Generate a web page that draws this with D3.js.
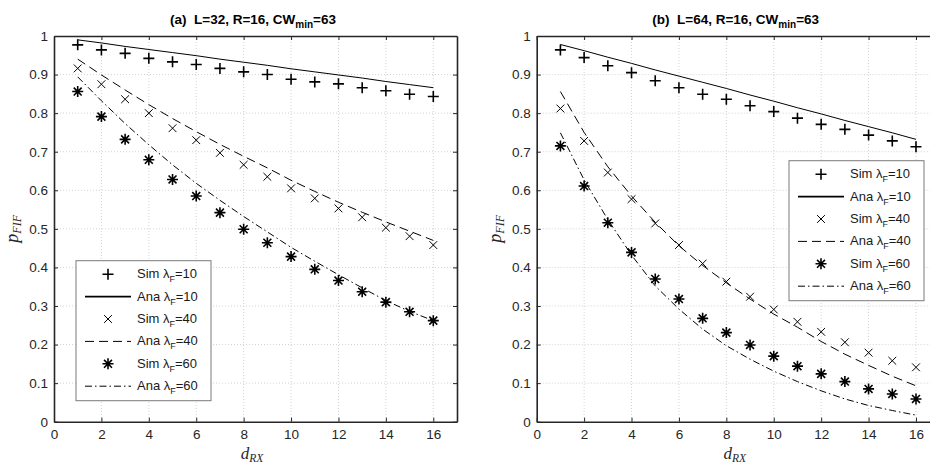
<!DOCTYPE html>
<html>
<head>
<meta charset="utf-8">
<script src="https://cdn.jsdelivr.net/npm/d3@7"></script>
<style>
  body { margin: 0; background: #fff; }
  svg { display: block; }
  text { font-family: Arial, "Liberation Sans", sans-serif; }
</style>
</head>
<body>
<div id="chart"></div>
<script>
// DATA
let dRX = [1, 2, 3, 4, 5, 6, 7, 8, 9, 10, 11, 12, 13, 14, 15, 16];
let xTicks = [0, 2, 4, 6, 8, 10, 12, 14, 16];
let yTicks = [0, 0.1, 0.2, 0.3, 0.4, 0.5, 0.6, 0.7, 0.8, 0.9, 1];
let lambdas = [10, 40, 60];

// panel (a) L=32
let simA10 = [0.977, 0.964, 0.955, 0.942, 0.933, 0.926, 0.916, 0.907, 0.900, 0.888, 0.881, 0.876, 0.866, 0.858, 0.849, 0.843];
let anaA10 = [0.990, 0.982, 0.973, 0.965, 0.957, 0.949, 0.940, 0.932, 0.924, 0.915, 0.907, 0.899, 0.891, 0.882, 0.874, 0.866];
let simA40 = [0.916, 0.875, 0.836, 0.800, 0.761, 0.730, 0.697, 0.666, 0.635, 0.605, 0.579, 0.553, 0.530, 0.503, 0.481, 0.458];
let anaA40 = [0.940, 0.899, 0.860, 0.822, 0.786, 0.752, 0.719, 0.688, 0.658, 0.626, 0.597, 0.569, 0.543, 0.518, 0.494, 0.470];
let simA60 = [0.856, 0.791, 0.732, 0.679, 0.628, 0.585, 0.542, 0.499, 0.464, 0.428, 0.395, 0.366, 0.337, 0.310, 0.285, 0.262];
let anaA60 = [0.894, 0.832, 0.773, 0.718, 0.666, 0.618, 0.574, 0.532, 0.492, 0.452, 0.416, 0.381, 0.347, 0.314, 0.286, 0.262];

// panel (b) L=64
let simB10 = [0.964, 0.944, 0.923, 0.905, 0.884, 0.866, 0.849, 0.836, 0.819, 0.804, 0.787, 0.771, 0.758, 0.743, 0.728, 0.713];
let anaB10 = [0.978, 0.962, 0.945, 0.929, 0.912, 0.896, 0.880, 0.864, 0.847, 0.831, 0.814, 0.798, 0.781, 0.765, 0.749, 0.732];
let simB40 = [0.812, 0.728, 0.646, 0.577, 0.514, 0.458, 0.410, 0.363, 0.324, 0.291, 0.259, 0.233, 0.206, 0.179, 0.158, 0.141];
let anaB40 = [0.856, 0.750, 0.661, 0.585, 0.517, 0.456, 0.405, 0.360, 0.318, 0.279, 0.245, 0.208, 0.175, 0.146, 0.118, 0.093];
let simB60 = [0.715, 0.611, 0.516, 0.439, 0.370, 0.318, 0.268, 0.231, 0.199, 0.170, 0.144, 0.124, 0.104, 0.085, 0.072, 0.059];
let anaB60 = [0.749, 0.627, 0.524, 0.432, 0.352, 0.292, 0.240, 0.197, 0.162, 0.131, 0.104, 0.080, 0.059, 0.042, 0.029, 0.017];

// PLOTTING VARIABLES
let width = 930,
    height = 468,
    plotW = 403,
    plotH = 385.7,
    plotTop = 36,
    axisColor = '#262626';

let svg = d3.select('#chart')
    .append('svg')
    .attr('width', width)
    .attr('height', height);

let panels = [
    {left: 54, label: '(a)\u00a0\u00a0L=32, R=16, CW', sims: [simA10, simA40, simA60], anas: [anaA10, anaA40, anaA60], legend: {x: 76, y: 260.7}},
    {left: 536.7, label: '(b)\u00a0\u00a0L=64, R=16, CW', sims: [simB10, simB40, simB60], anas: [anaB10, anaB40, anaB60], legend: {x: 789, y: 160.7}}
];

// marker shapes: plus, cross, asterisk
function markerPath(kind, s) {
    if (kind === 0) return `M${-s},0H${s}M0,${-s}V${s}`;
    if (kind === 1) { let c = s * 0.75; return `M${-c},${-c}L${c},${c}M${-c},${c}L${c},${-c}`; }
    let c = s * 0.72;
    return `M${-s},0H${s}M0,${-s}V${s}M${-c},${-c}L${c},${c}M${-c},${c}L${c},${-c}`;
}
let markerStyle = [
    {size: 5.5, width: 1.6},
    {size: 5.2, width: 1.0},
    {size: 5.5, width: 1.6}
];
let lineDash = [null, '9,5', '7,3,1.5,3'];

panels.forEach(p => {
    let x = d3.scaleLinear().domain([0, 17]).range([0, plotW]);
    let y = d3.scaleLinear().domain([0, 1]).range([plotH, 0]);

    let g = svg.append('g').attr('transform', `translate(${p.left},${plotTop})`);

    // grid
    g.selectAll('.gx').data(xTicks.filter(t => t > 0)).enter()
        .append('line')
        .attr('x1', d => x(d)).attr('x2', d => x(d))
        .attr('y1', 0).attr('y2', plotH)
        .attr('stroke', '#c8c8c8').attr('stroke-width', 0.8)
        .attr('stroke-dasharray', '1,2');
    g.selectAll('.gy').data(yTicks.filter(t => t > 0 && t < 1)).enter()
        .append('line')
        .attr('x1', 0).attr('x2', plotW)
        .attr('y1', d => y(d)).attr('y2', d => y(d))
        .attr('stroke', '#c8c8c8').attr('stroke-width', 0.8)
        .attr('stroke-dasharray', '1,2');

    // analytic curves
    let line = d3.line().x((d, i) => x(dRX[i])).y(d => y(d));
    p.anas.forEach((series, k) => {
        g.append('path')
            .datum(series)
            .attr('d', line)
            .attr('fill', 'none')
            .attr('stroke', '#000')
            .attr('stroke-width', 1)
            .attr('stroke-dasharray', lineDash[k]);
    });

    // simulation markers
    p.sims.forEach((series, k) => {
        g.selectAll('.m' + k).data(series).enter()
            .append('path')
            .attr('transform', (d, i) => `translate(${x(dRX[i])},${y(d)})`)
            .attr('d', markerPath(k, markerStyle[k].size))
            .attr('fill', 'none')
            .attr('stroke', '#000')
            .attr('stroke-width', markerStyle[k].width);
    });

    // axes (box on, ticks inward)
    let xAxisB = d3.axisBottom(x).tickValues(xTicks).tickSizeInner(-4).tickSizeOuter(0).tickPadding(8);
    let xAxisT = d3.axisTop(x).tickValues(xTicks).tickSizeInner(-4).tickSizeOuter(0).tickFormat('');
    let yAxisL = d3.axisLeft(y).tickValues(yTicks).tickSizeInner(-4).tickSizeOuter(0).tickPadding(6).tickFormat(d3.format('~g'));
    let yAxisR = d3.axisRight(y).tickValues(yTicks).tickSizeInner(-4).tickSizeOuter(0).tickFormat('');

    [[xAxisB, `translate(0,${plotH})`], [xAxisT, 'translate(0,0)'], [yAxisL, 'translate(0,0)'], [yAxisR, `translate(${plotW},0)`]]
        .forEach(([ax, tr]) => {
            let a = g.append('g').attr('transform', tr).call(ax);
            a.select('.domain').attr('stroke', axisColor).attr('stroke-width', 1.6);
            a.selectAll('.tick line').attr('stroke', axisColor).attr('stroke-width', 1);
            a.selectAll('.tick text').attr('fill', axisColor).style('font-size', '13.5px')
                .style('font-family', 'Arial, "Liberation Sans", sans-serif');
        });

    // title
    let t = svg.append('text')
        .attr('x', p.left + 199)
        .attr('y', 24)
        .attr('text-anchor', 'middle')
        .style('font-weight', 'bold')
        .style('font-size', '13.5px')
        .attr('fill', '#000');
    t.append('tspan').text(p.label);
    t.append('tspan').attr('dy', 4).style('font-size', '10px').text('min');
    t.append('tspan').attr('dy', -4).text('=63');

    // axis labels (math italic)
    let xl = svg.append('text')
        .attr('x', p.left + 198)
        .attr('y', 459)
        .attr('text-anchor', 'middle')
        .style('font-family', '"Liberation Serif", "DejaVu Serif", serif')
        .style('font-style', 'italic')
        .style('font-size', '17px')
        .attr('fill', axisColor);
    xl.append('tspan').text('d');
    xl.append('tspan').attr('dy', 3).style('font-size', '11.5px').text('RX');

    let yl = svg.append('text')
        .attr('transform', `translate(${p.left - 36},${plotTop + plotH / 2}) rotate(-90)`)
        .attr('text-anchor', 'middle')
        .style('font-family', '"Liberation Serif", "DejaVu Serif", serif')
        .style('font-style', 'italic')
        .style('font-size', '18px')
        .attr('fill', axisColor);
    yl.append('tspan').text('p');
    yl.append('tspan').attr('dy', 3).style('font-size', '12px').text('FIF');

    // legend
    let lg = svg.append('g').attr('transform', `translate(${p.legend.x},${p.legend.y})`);
    lg.append('rect')
        .attr('width', 135).attr('height', 140)
        .attr('fill', '#fff')
        .attr('stroke', '#7a7a7a').attr('stroke-width', 1);
    let rows = [];
    lambdas.forEach((l, k) => {
        rows.push({kind: 'sim', k: k, name: 'Sim ', l: l});
        rows.push({kind: 'ana', k: k, name: 'Ana ', l: l});
    });
    rows.forEach((r, i) => {
        let ry = 13.5 + i * 22.4;
        if (r.kind === 'sim') {
            lg.append('path')
                .attr('transform', `translate(32,${ry})`)
                .attr('d', markerPath(r.k, markerStyle[r.k].size))
                .attr('fill', 'none').attr('stroke', '#000')
                .attr('stroke-width', markerStyle[r.k].width);
        } else {
            lg.append('line')
                .attr('x1', 9).attr('x2', 55)
                .attr('y1', ry).attr('y2', ry)
                .attr('stroke', '#000')
                .attr('stroke-width', r.k === 0 ? 1.6 : 1)
                .attr('stroke-dasharray', lineDash[r.k]);
        }
        let tx = lg.append('text')
            .attr('x', 61).attr('y', ry + 4)
            .style('font-size', '13px')
            .attr('fill', '#1a1a1a');
        tx.append('tspan').text(r.name + 'λ');
        tx.append('tspan').attr('dy', 4).style('font-size', '9px').text('F');
        tx.append('tspan').attr('dy', -4).text('=' + r.l);
    });
});
</script>
</body>
</html>
